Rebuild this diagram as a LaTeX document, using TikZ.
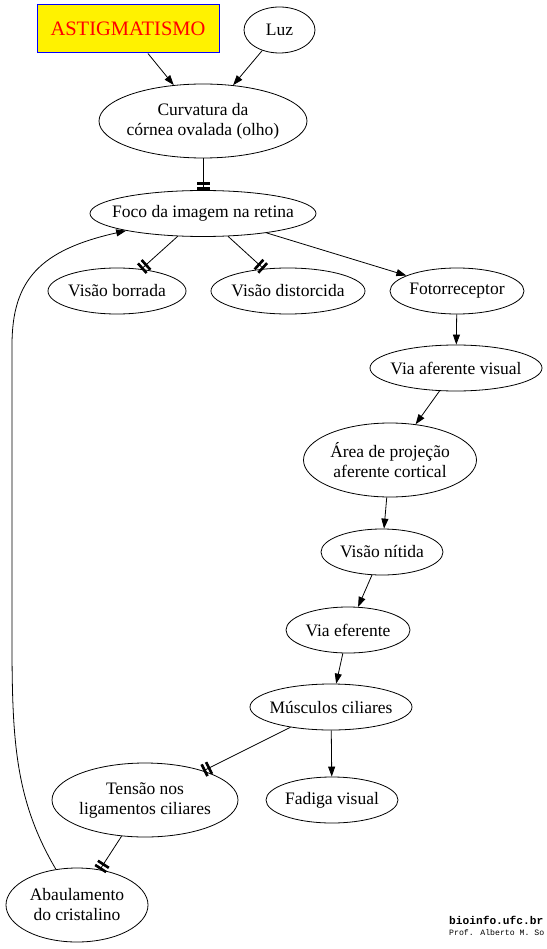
\documentclass[tikz,border=0pt]{standalone}
\usepackage{fontspec}
\setmainfont{Liberation Serif}
\newfontfamily\signfont{Liberation Mono}
\usetikzlibrary{arrows.meta,shapes.geometric}
\tikzset{
  ell/.style 2 args = {ellipse, draw, line width=0.8pt, inner sep=0pt,
                       minimum width=#1, minimum height=#2},
  lbl/.style   = {font=\fontsize{17.5}{20}\selectfont, align=center, inner sep=0pt},
  title/.style = {draw=blue, line width=1pt, fill=yellow, text=red,
                  minimum width=182pt, minimum height=48pt,
                  font=\fontsize{20.5}{24}\selectfont},
  arr/.style   = {-{Triangle[length=10pt,width=7pt]}, line width=0.8pt},
  tee/.style   = {-{Rectangle[length=2.6pt,width=13pt,sep=2.4pt]Rectangle[length=2.6pt,width=13pt]},
                  line width=0.8pt},
}

\begin{document}
\begin{tikzpicture}[x=1pt,y=-1pt]
  \useasboundingbox (0,0) rectangle (546,949);
  % nodes
  \node[title] (astig) at (128,29) {ASTIGMATISMO};
  \node[ell={71pt}{46pt}, label={[lbl]center:Luz}] (luz) at (279.5,30) {};
  \node[ell={208pt}{74pt}, label={[lbl]center:Curvatura da\\córnea ovalada (olho)}] (curv) at (203,121) {};
  \node[ell={226pt}{46pt}, label={[lbl]center:Foco da imagem na retina}] (foco) at (203,213.5) {};
  \node[ell={138pt}{46pt}, label={[lbl]center:Visão borrada}] (borr) at (117,291) {};
  \node[ell={154pt}{46pt}, label={[lbl]center:Visão distorcida}] (dist) at (288,291) {};
  \node[ell={134pt}{46pt}, label={[lbl]center:Fotorreceptor}] (foto) at (457,291) {};
  \node[ell={172pt}{46pt}, label={[lbl]center:Via aferente visual}] (viaaf) at (456,368) {};
  \node[ell={173pt}{74pt}, label={[lbl]center:Área de projeção\\aferente cortical}] (area) at (390,460) {};
  \node[ell={122pt}{46pt}, label={[lbl]center:Visão nítida}] (nitida) at (382,552) {};
  \node[ell={124pt}{46pt}, label={[lbl]center:Via eferente}] (viaef) at (348,630) {};
  \node[ell={162pt}{46pt}, label={[lbl]center:Músculos ciliares}] (musc) at (331,707) {};
  \node[ell={186pt}{74pt}, label={[lbl]center:Tensão nos\\ligamentos ciliares}] (tens) at (145,800) {};
  \node[ell={132pt}{46pt}, label={[lbl]center:Fadiga visual}] (fadiga) at (332,800) {};
  \node[ell={142pt}{74pt}, label={[lbl]center:Abaulamento\\do cristalino}] (abaul) at (77,905) {};
  % connectors
  \draw[arr] (astig) -- (curv);
  \draw[arr] (luz) -- (curv);
  \draw[tee] (curv) -- (foco);
  \draw[tee] (foco) -- (borr);
  \draw[tee] (foco) -- (dist);
  \draw[arr] (foco) -- (foto);
  \draw[arr] (foto) -- (viaaf);
  \draw[arr] (viaaf) -- (area);
  \draw[arr] (area) -- (nitida);
  \draw[arr] (nitida) -- (viaef);
  \draw[arr] (viaef) -- (musc);
  \draw[tee] (musc) -- (tens);
  \draw[arr] (musc) -- (fadiga);
  \draw[tee] (tens) -- (abaul);
  \draw[arr] (abaul) .. controls (15,800) and (12,740) .. (12,640)
             -- (12,345) .. controls (12,280) and (40,250) .. (foco);
  % signature
  \node[anchor=base west, inner sep=0pt, font=\signfont\bfseries\fontsize{11.2}{12}\selectfont]
    (site) at (449,924) {bioinfo.ufc.br};
  \node[anchor=base west, inner sep=0pt, font=\signfont\fontsize{8.2}{9}\selectfont]
    (prof) at (449,935) {Prof. Alberto M. So};
\end{tikzpicture}
\end{document}
